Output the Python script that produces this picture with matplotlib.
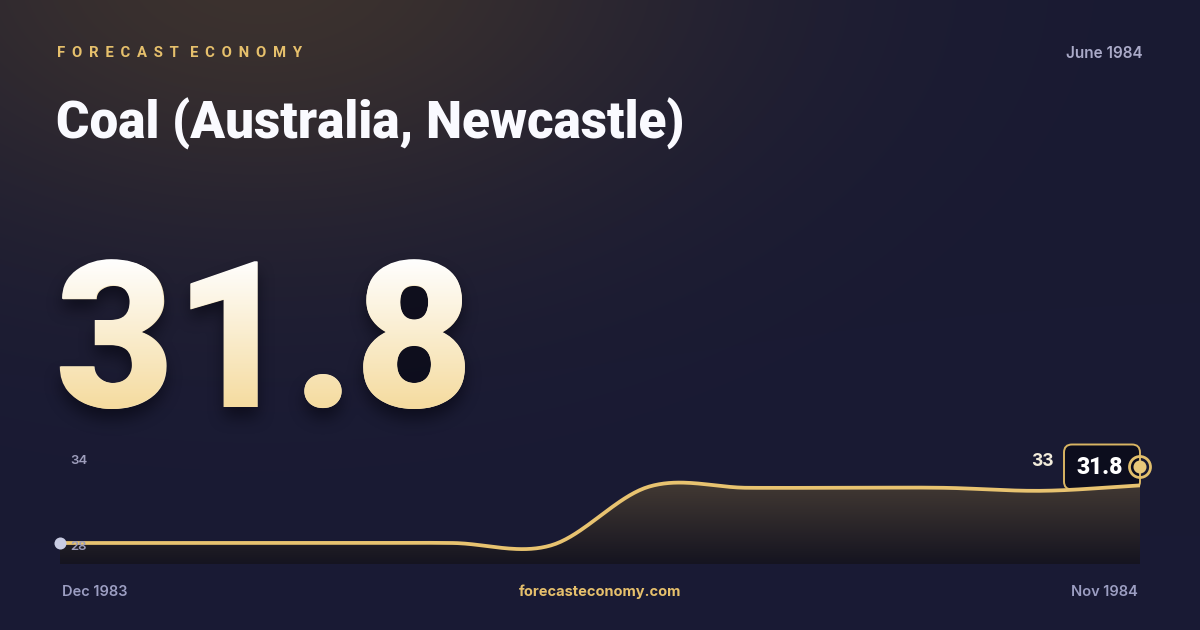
import numpy as np
import matplotlib
matplotlib.use("Agg")
import matplotlib.pyplot as plt
from matplotlib.patches import FancyBboxPatch, Circle, PathPatch, Polygon
from matplotlib.textpath import TextPath
from matplotlib.font_manager import FontProperties
from matplotlib.transforms import Affine2D

# ---------------- data ----------------
months = ["Dec 1983", "Jan 1984", "Feb 1984", "Mar 1984", "Apr 1984", "May 1984",
          "Jun 1984", "Jul 1984", "Aug 1984", "Sep 1984", "Oct 1984", "Nov 1984"]
values = [28.0, 28.0, 28.0, 28.0, 28.0, 27.8, 32.7, 32.6, 32.6, 32.6, 32.35, 32.8]
headline_value = "31.8"
headline_date = "June 1984"
title = "Coal (Australia, Newcastle)"
brand = "FORECAST ECONOMY"
site = "forecasteconomy.com"
y_tick_top = "34"
y_tick_bottom = "28"
last_label = "33"

W, H, DPI = 1200, 630, 100
GOLD = "#e8c370"
NAVY = (0x19 / 255, 0x1a / 255, 0x33 / 255)

BLACK = FontProperties(family="Roboto", weight="black")
INTER_SB = FontProperties(family="Inter", weight="semibold")
INTER_B = FontProperties(family="Inter", weight="bold")

fig = plt.figure(figsize=(W / DPI, H / DPI), dpi=DPI)

# ---------------- background ----------------
bg = fig.add_axes([0, 0, 1, 1])
bg.set_xlim(0, W)
bg.set_ylim(H, 0)
bg.axis("off")
yy, xx = np.mgrid[0:H, 0:W]
base = np.array(NAVY)
warm = np.array([0x3c / 255, 0x32 / 255, 0x2e / 255])
d2 = ((xx - 260) / 560.0) ** 2 + ((yy + 30) / 330.0) ** 2
t = np.exp(-d2 * 1.6)
img = base[None, None, :] * (1 - t[..., None]) + warm[None, None, :] * t[..., None]
bot = np.clip((yy - 300) / 330.0, 0, 1)[..., None]
img = img * (1 - 0.2 * bot) + np.array([0x1b / 255, 0x1c / 255, 0x3a / 255])[None, None, :] * 0.2 * bot
bg.imshow(img, extent=[0, W, H, 0], aspect="auto", zorder=0, interpolation="bilinear")

# ---------------- header texts ----------------
spaced = "   ".join(" \u2009".join(w) for w in brand.split(" "))
bg.text(57, 53, spaced, color="#e6c06c", fontsize=10.7, fontweight="bold",
        family="Roboto", va="center", ha="left", zorder=3)
bg.text(1143, 54, headline_date, color="#aaaac8", fontsize=11, fontproperties=INTER_SB,
        va="center", ha="right", zorder=3)
bg.text(56, 124, title, color="#fafaff", fontsize=36.8, fontproperties=BLACK,
        va="center", ha="left", zorder=3)

# ---------------- big number with gradient + soft shadow ----------------
big_px = 205
base_x, base_y = 55, 407
tp = TextPath((0, 0), headline_value, size=big_px, prop=BLACK)
aff = Affine2D().scale(1, -1).translate(base_x, base_y)

# soft blurred shadow (rasterised mask of the glyph outline, box-blurred)
sx0, sx1, sy0, sy1 = 0, 560, 220, 470
gx, gy = np.meshgrid(np.arange(sx0, sx1) + 0.5, np.arange(sy0, sy1) + 0.5)
shadow_path = tp.transformed(Affine2D().scale(1, -1).translate(base_x, base_y + 10))
mask = shadow_path.contains_points(np.column_stack([gx.ravel(), gy.ravel()])).reshape(gx.shape).astype(float)
def blur1d(a, r, axis):
    k = np.ones(2 * r + 1) / (2 * r + 1)
    return np.apply_along_axis(lambda m: np.convolve(m, k, mode="same"), axis, a)
for _ in range(3):
    mask = blur1d(mask, 7, 0)
    mask = blur1d(mask, 7, 1)
sh = np.zeros(mask.shape + (4,))
sh[..., :3] = np.array([0.02, 0.02, 0.06])
sh[..., 3] = mask * 0.6
bg.imshow(sh, extent=[sx0, sx1, sy1, sy0], aspect="auto", zorder=3.5, interpolation="bilinear")

bg.text(base_x, base_y, headline_value, fontproperties=BLACK, fontsize=big_px * 72 / DPI,
        color="#f8e8c0", va="baseline", ha="left", zorder=4)
patch = PathPatch(tp, transform=aff + bg.transData, facecolor="none", edgecolor="none")
bg.add_patch(patch)
grad = np.linspace(0, 1, 256)[:, None]
top_c = np.array([1.0, 1.0, 1.0])
bot_c = np.array([0xf5 / 255, 0xdb / 255, 0x9e / 255])
gimg = top_c[None, None, :] * (1 - grad[..., None]) + bot_c[None, None, :] * grad[..., None]
gimg = np.repeat(gimg, 2, axis=1)
gi = bg.imshow(gimg, extent=[40, 520, 410, 258], aspect="auto", zorder=5)
gi.set_clip_path(patch)

# ---------------- chart ----------------
L, R, TOPPX, BOTPX = 60, 1140, 440, 564
ax = fig.add_axes([L / W, (H - BOTPX) / H, (R - L) / W, (BOTPX - TOPPX) / H])
ax.axis("off")
v_bottom = 28 - (564 - 543) / 12.0
v_top = 28 + (543 - 440) / 12.0

x = np.arange(len(values), dtype=float)
v = np.array(values)

# Catmull-Rom smoothing (rendering only)
def catmull(xp, yp, n=40):
    xs, ys = [], []
    m = np.zeros_like(yp)
    m[1:-1] = (yp[2:] - yp[:-2]) / 2.0
    m[0] = yp[1] - yp[0]
    m[-1] = yp[-1] - yp[-2]
    for i in range(len(xp) - 1):
        tt = np.linspace(0, 1, n, endpoint=False)
        h00 = 2 * tt**3 - 3 * tt**2 + 1
        h10 = tt**3 - 2 * tt**2 + tt
        h01 = -2 * tt**3 + 3 * tt**2
        h11 = tt**3 - tt**2
        ys.append(h00 * yp[i] + h10 * m[i] + h01 * yp[i + 1] + h11 * m[i + 1])
        xs.append(xp[i] + tt * (xp[i + 1] - xp[i]))
    xs.append([xp[-1]]); ys.append([yp[-1]])
    return np.concatenate(xs), np.concatenate(ys)

sx, sy = catmull(x, v)

poly = Polygon(np.column_stack([np.r_[sx, sx[-1], sx[0]], np.r_[sy, v_bottom, v_bottom]]),
               closed=True, facecolor="none", edgecolor="none")
ax.add_patch(poly)
fg = np.linspace(0, 1, 256)[:, None]
c_top = np.array([0x42 / 255, 0x39 / 255, 0x33 / 255])
c_bot = np.array([0x15 / 255, 0x14 / 255, 0x20 / 255])
fimg = c_top[None, None, :] * (1 - fg[..., None]) + c_bot[None, None, :] * fg[..., None]
fimg = np.repeat(fimg, 2, axis=1)
fi = ax.imshow(fimg, extent=[0, len(months) - 1, v_bottom, max(values) + 0.2], aspect="auto", zorder=1)
fi.set_clip_path(poly)

ax.plot(sx, sy, color=GOLD, lw=2.7, solid_capstyle="round", zorder=3)
ax.set_xlim(0, len(months) - 1)
ax.set_ylim(v_bottom, v_top)

# start dot
ax.scatter([x[0]], [v[0]], s=75, color="#c9cce3", zorder=6, clip_on=False, linewidths=0)

# axis labels
for lab, val, dy in ((y_tick_top, 34, 10), (y_tick_bottom, 28, -4)):
    ax.annotate(lab, xy=(0, val), xytext=(10, dy), textcoords="offset pixels",
                color="#9d9dbb", fontsize=9.5, fontproperties=INTER_SB,
                va="center", ha="left", annotation_clip=False, zorder=5)

# end marker + value box
box = FancyBboxPatch((1064, 444.5), 76, 45, boxstyle="round,pad=0,rounding_size=8",
                     facecolor="#0c0d1d", edgecolor="#d9b563", lw=1.4, zorder=6)
bg.add_patch(box)
bg.text(1100, 467, headline_value, color="#ffffff", fontsize=16.5, fontproperties=BLACK,
        va="center", ha="center", zorder=7)
bg.add_patch(Circle((1140, 467), 10.5, facecolor="none", edgecolor="#e2bf6c", lw=2.0, zorder=8))
bg.add_patch(Circle((1140, 467), 6.5, facecolor="#e8c87a", edgecolor="none", zorder=8))
bg.text(1042, 462, last_label, color="#f2ecdc", fontsize=12.5, fontproperties=INTER_B,
        va="center", ha="center", zorder=7)

# footer
bg.text(62, 592, months[0], color="#9c9ec2", fontsize=10.5, fontproperties=INTER_SB,
        va="center", ha="left", zorder=3)
bg.text(1138, 592, months[-1], color="#9c9ec2", fontsize=10.5, fontproperties=INTER_SB,
        va="center", ha="right", zorder=3)
bg.text(600, 592, site, color="#e6c06c", fontsize=10.5, fontproperties=INTER_B,
        va="center", ha="center", zorder=3)

fig.savefig("out.png", dpi=DPI, facecolor=NAVY)
